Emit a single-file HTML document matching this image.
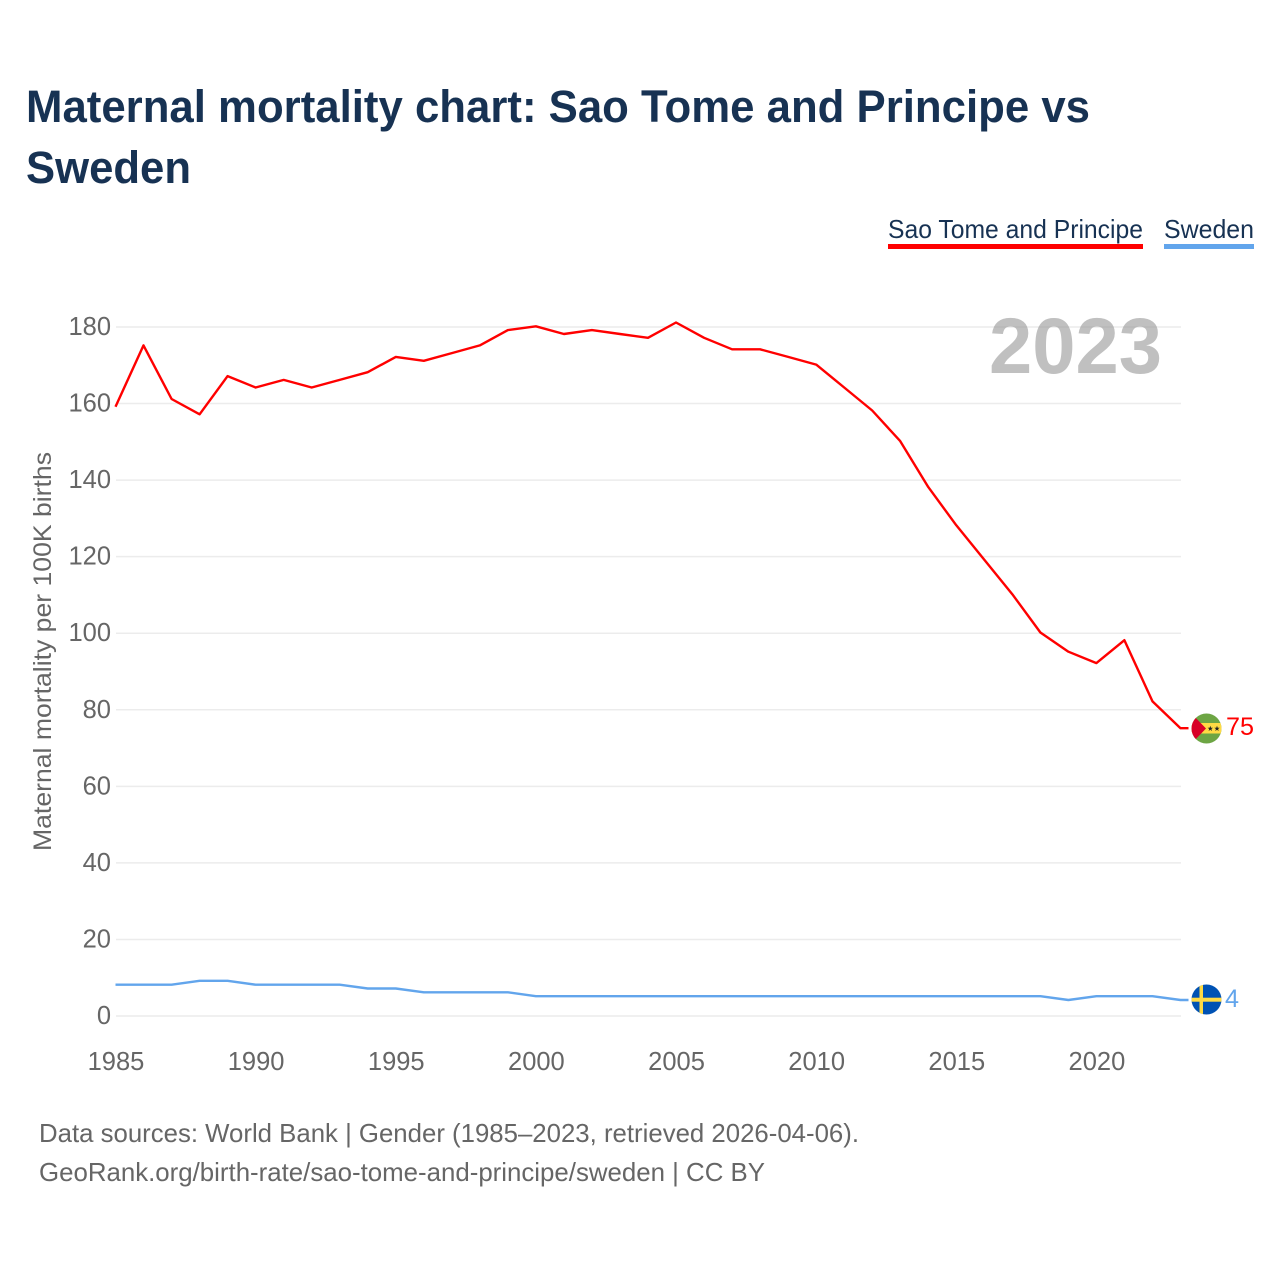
<!DOCTYPE html>
<html lang="en">
<head>
<meta charset="utf-8">
<title>Maternal mortality chart: Sao Tome and Principe vs Sweden</title>
<style>
html,body{margin:0;padding:0;background:#fff;width:1280px;height:1280px;overflow:hidden}
svg{display:block;font-family:"Liberation Sans",sans-serif}
</style>
</head>
<body>
<svg id="chart" width="1280" height="1280" viewBox="0 0 1280 1280" xmlns="http://www.w3.org/2000/svg">
  <defs>
    <clipPath id="clip-st"><circle cx="1206.5" cy="728.5" r="15"/></clipPath>
    <clipPath id="clip-se"><circle cx="1206.5" cy="999.5" r="15"/></clipPath>
  </defs>
  <text x="26" y="122" font-size="45" font-weight="700" fill="#173253" textLength="1064" lengthAdjust="spacingAndGlyphs">Maternal mortality chart: Sao Tome and Principe vs</text>
  <text x="26" y="183" font-size="45" font-weight="700" fill="#173253" textLength="165" lengthAdjust="spacingAndGlyphs">Sweden</text>

  <g>
    <g>
      <text x="888" y="238" font-size="26" fill="#173253" textLength="255" lengthAdjust="spacingAndGlyphs">Sao Tome and Principe</text>
      <rect x="888" y="244" width="255" height="5" fill="#ff0000"/>
    </g>
    <g>
      <text x="1164" y="238" font-size="26" fill="#173253" textLength="90" lengthAdjust="spacingAndGlyphs">Sweden</text>
      <rect x="1164" y="244" width="90" height="5" fill="#62a5ec"/>
    </g>
  </g>

  <g id="grid"></g>
  <g id="yticks"></g>
  <g id="xticks"></g>

  <text transform="translate(51,851) rotate(-90)" font-size="25" fill="#666666" textLength="399" lengthAdjust="spacingAndGlyphs">Maternal mortality per 100K births</text>

  <text x="1162" y="373" text-anchor="end" font-size="79" font-weight="700" fill="#999999" fill-opacity="0.62" textLength="173" lengthAdjust="spacingAndGlyphs">2023</text>

  <path id="line-st" fill="none" stroke="#ff0000" stroke-width="2.4" stroke-linejoin="round" transform="translate(-0.5,-0.7)"/>
  <path id="line-se" fill="none" stroke="#62a5ec" stroke-width="2.4" stroke-linejoin="round" transform="translate(-0.5,-0.7)"/>

  <g clip-path="url(#clip-st)">
    <rect x="1191" y="713" width="31" height="31" fill="#6da544"/>
    <rect x="1191" y="723" width="31" height="10.5" fill="#ffda44"/>
    <polygon points="1191,713 1206,728.5 1191,744" fill="#d80027"/>
    <polygon points="1210.3,725.8 1211,727.7 1213,727.7 1211.4,729 1212,731 1210.3,729.8 1208.6,731 1209.2,729 1207.6,727.7 1209.6,727.7" fill="#222222"/>
    <polygon points="1217,725.8 1217.7,727.7 1219.7,727.7 1218.1,729 1218.7,731 1217,729.8 1215.3,731 1215.9,729 1214.3,727.7 1216.3,727.7" fill="#222222"/>
  </g>
  <text id="end-label-st" x="1226" y="735" font-size="25" fill="#ff0000" textLength="28" lengthAdjust="spacingAndGlyphs"></text>

  <g clip-path="url(#clip-se)">
    <rect x="1191" y="984" width="31" height="31" fill="#0052b4"/>
    <rect x="1199.5" y="984" width="3.5" height="31" fill="#ffda44"/>
    <rect x="1191" y="997.7" width="31" height="4" fill="#ffda44"/>
  </g>
  <text id="end-label-se" x="1225" y="1007" font-size="25" fill="#62a5ec" textLength="14" lengthAdjust="spacingAndGlyphs"></text>

  <text x="39" y="1142" font-size="26" fill="#666666" textLength="820" lengthAdjust="spacingAndGlyphs">Data sources: World Bank | Gender (1985–2023, retrieved 2026-04-06).</text>
  <text x="39" y="1181" font-size="26" fill="#666666" textLength="726" lengthAdjust="spacingAndGlyphs">GeoRank.org/birth-rate/sao-tome-and-principe/sweden | CC BY</text>
</svg>
<script>
const years = [1985,1986,1987,1988,1989,1990,1991,1992,1993,1994,1995,1996,1997,1998,1999,2000,2001,2002,2003,2004,2005,2006,2007,2008,2009,2010,2011,2012,2013,2014,2015,2016,2017,2018,2019,2020,2021,2022,2023];
const saoTomeValues = [159,175,161,157,167,164,166,164,166,168,172,171,173,175,179,180,178,179,178,177,181,177,174,174,172,170,164,158,150,138,128,119,110,100,95,92,98,82,75];
const swedenValues = [8,8,8,9,9,8,8,8,8,7,7,6,6,6,6,5,5,5,5,5,5,5,5,5,5,5,5,5,5,5,5,5,5,5,4,5,5,5,4];
const yTickValues = [0,20,40,60,80,100,120,140,160,180];
const xTickValues = [1985,1990,1995,2000,2005,2010,2015,2020];

const NS = 'http://www.w3.org/2000/svg';
function xScale(year){ return 116 + (year - 1985) * (1181 - 116) / 38; }
function yScale(v){ return 1016 - v * (1016 - 327) / 180; }
function linePath(values){
  const d = values.map(function(v,i){
    return (i ? 'L' : 'M') + xScale(years[i]).toFixed(1) + ' ' + yScale(v).toFixed(1);
  }).join(' ');
  return d + ' H1189';
}

const grid = document.getElementById('grid');
const yticks = document.getElementById('yticks');
const xticks = document.getElementById('xticks');

yTickValues.forEach(function(v){
  const l = document.createElementNS(NS,'line');
  
  
  l.setAttribute('x1', 116);
  l.setAttribute('x2', 1181);
  l.setAttribute('y1', yScale(v));
  l.setAttribute('y2', yScale(v));
  l.setAttribute('stroke', '#ececec');
  l.setAttribute('stroke-width', 1.5);
  grid.appendChild(l);

  const t = document.createElementNS(NS,'text');
  
  
  t.setAttribute('x', 111);
  t.setAttribute('y', yScale(v) + 8);
  t.setAttribute('text-anchor', 'end');
  t.setAttribute('font-size', 25.5);
  t.setAttribute('fill', '#666666');
  t.textContent = v;
  yticks.appendChild(t);
});

xTickValues.forEach(function(y){
  const t = document.createElementNS(NS,'text');
  
  
  t.setAttribute('x', xScale(y));
  t.setAttribute('y', 1070);
  t.setAttribute('text-anchor', 'middle');
  t.setAttribute('font-size', 25.5);
  t.setAttribute('fill', '#666666');
  t.textContent = y;
  xticks.appendChild(t);
});

document.getElementById('line-st').setAttribute('d', linePath(saoTomeValues));
document.getElementById('line-se').setAttribute('d', linePath(swedenValues));
document.getElementById('end-label-st').textContent = saoTomeValues[saoTomeValues.length - 1];
document.getElementById('end-label-se').textContent = swedenValues[swedenValues.length - 1];
</script>
</body>
</html>
